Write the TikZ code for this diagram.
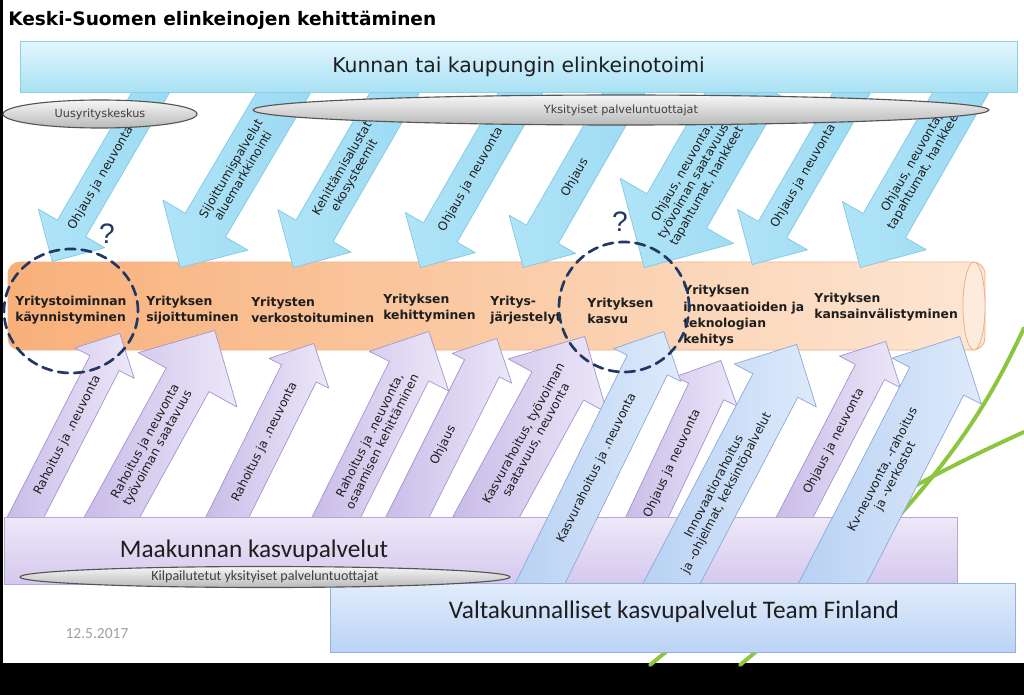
\documentclass[tikz,border=0pt]{standalone}
\usepackage{fontspec}
\setmainfont{DejaVu Sans}
\newfontfamily\calfont{Carlito}
\newfontfamily\markfont{Liberation Sans}
\usepackage{tikz}
\usetikzlibrary{calc,positioning,shapes.geometric,shapes.arrows}
\newcommand\pxl{0.025cm}
\definecolor{barTop}{HTML}{E3F6FD}
\definecolor{barBot}{HTML}{A7E1F4}
\definecolor{barLine}{HTML}{8CCFE6}
\definecolor{cyanTail}{HTML}{B0E4F7}
\definecolor{cyanHead}{HTML}{9BDAF3}
\definecolor{cyanLine}{HTML}{7FC9E4}
\definecolor{lilacTail}{HTML}{C9BCE8}
\definecolor{lilacHead}{HTML}{ECE7F8}
\definecolor{lilacLine}{HTML}{A395CF}
\definecolor{skyTail}{HTML}{B7D1F3}
\definecolor{skyHead}{HTML}{DEEAFB}
\definecolor{skyLine}{HTML}{8DA9D8}
\definecolor{tubeL}{HTML}{F8B07A}
\definecolor{tubeR}{HTML}{FDE6D3}
\definecolor{tubeCap}{HTML}{FDEBDD}
\definecolor{tubeLine}{HTML}{F2B185}
\definecolor{maakTop}{HTML}{EEE8F8}
\definecolor{maakBot}{HTML}{D5C8EE}
\definecolor{maakLine}{HTML}{B5A6D8}
\definecolor{valTop}{HTML}{E2ECFC}
\definecolor{valBot}{HTML}{BBD3F5}
\definecolor{valLine}{HTML}{93B1DE}
\definecolor{ovalTop}{HTML}{F6F6F6}
\definecolor{ovalBot}{HTML}{B9B9B9}
\definecolor{ovalLine}{HTML}{555555}
\definecolor{ovalText}{HTML}{404040}
\definecolor{navy}{HTML}{1F3864}
\definecolor{leaf}{HTML}{8CC63E}
\definecolor{ink}{HTML}{1E1E1E}
\definecolor{dateGrey}{HTML}{A0A0A0}
\tikzset{
    every picture/.style={line cap=round,line join=round},
    topbar/.style={draw=barLine,top color=barTop,bottom color=barBot,line width=0.6pt,
      minimum width=997*\pxl,minimum height=51*\pxl,inner sep=0pt,
      font=\fontsize{14.5}{16}\selectfont,text=ink},
    greyoval/.style={ellipse,draw=ovalLine,top color=ovalTop,bottom color=ovalBot,
      line width=0.8pt,inner sep=0pt,text=ovalText,font=\fontsize{8}{9}\selectfont},
    blockarrow/.style={single arrow,line width=0.5pt,inner xsep=0pt},
    downarrow/.style={blockarrow,draw=cyanLine,left color=cyanTail,right color=cyanHead},
    lilacarrow/.style={blockarrow,draw=lilacLine,left color=lilacTail,right color=lilacHead},
    skyarrow/.style={blockarrow,draw=skyLine,left color=skyTail,right color=skyHead},
    arrowlabel/.style={font=\fontsize{8.6}{10}\selectfont,align=center,text=ink,inner sep=0pt},
    stagelabel/.style={font=\bfseries\fontsize{8.8}{11.6}\selectfont,align=left,
      anchor=west,inner sep=0pt,text=ink},
    tube/.style={rectangle,rounded corners=0.3cm,draw=tubeLine,left color=tubeL,right color=tubeR,
      line width=0.6pt,minimum width=977*\pxl,minimum height=88*\pxl,inner sep=0pt},
    tubecap/.style={ellipse,fill=tubeCap,draw=tubeLine,line width=0.6pt,inner sep=0pt,
      minimum width=22*\pxl,minimum height=88*\pxl},
    bigbox/.style={rectangle,line width=0.6pt,inner sep=0pt},
    boxlabel/.style={font=\calfont\fontsize{18}{20}\selectfont,text=ink,inner sep=0pt},
    qring/.style={draw=navy,line width=1.9pt,dash pattern=on 7pt off 4.5pt,inner sep=0pt},
    qmark/.style={font=\markfont\fontsize{20}{22}\selectfont,text=navy,inner sep=0pt},
    leafline/.style={draw=leaf,line width=2.8pt}
}
\begin{document}
\begin{tikzpicture}[x=\pxl,y=-\pxl]
  \useasboundingbox (0,0) rectangle (1024,695);
  \fill[black] (0,0) rectangle (1024,695);
  \fill[white] (3,0) rectangle (1024,663);
  \node[anchor=base west,font=\bfseries\fontsize{13.2}{15}\selectfont,inner sep=0pt] (title) at (8,26)
    {Keski-Suomen elinkeinojen kehittäminen};
  \draw[leafline] (1024,328) .. controls (990,400) and (940,500) .. (740,665);
  \draw[leafline] (1024,432) .. controls (940,470) and (800,540) .. (650,665);
  % tube of the stages
  \node[tube] (tube) at (496.5,306) {};
  \node[tubecap] (cap) at (974,306) {};
  % arrows from the municipality
  \foreach \nm/\xa/\ya/\xb/\yb/\sw/\hw/\fr/\txt in {
      t1/158/80/52/262/32/76/.46/{Ohjaus ja neuvonta},
      t2/291/80/180/268/46/98/.51/{Sijoittumispalvelut\\aluemarkkinointi},
      t3/402/80/293/268/42/84/.51/{Kehittämisalustat\\ekosysteemit},
      t4/528/80/420/268/38/80/.47/{Ohjaus ja neuvonta},
      t5/631/80/523/268/36/76/.48/{Ohjaus},
      t6/752/80/644/268/68/130/.47/{Ohjaus, neuvonta,\\työvoiman saatavuus,\\tapahtumat, hankkeet},
      t7/859/80/752/265/32/80/.48/{Ohjaus ja neuvonta},
      t8/968/80/860/268/48/96/.54/{Ohjaus, neuvonta,\\tapahtumat, hankkeet}}{
    \path let \p1=(\xb,\yb), \p2=(\xa,\ya), \p3=($(\p1)-(\p2)$),
          \n1={atan2(\y3,\x3)}, \n2={veclen(\x3,\y3)} in
      node[downarrow,rotate=\n1,anchor=tip,minimum height=\n2,minimum width=\hw*\pxl,
           inner ysep=\sw*\pxl/2,single arrow head extend=(\hw-\sw)*\pxl/2] (\nm) at (\p1) {}
      node[arrowlabel,rotate=\n1+180] (\nm-l) at ($(\p1)!\fr!(\p2)$) {\txt};
  }
  \node[topbar] (bar) at (518.5,67) {Kunnan tai kaupungin elinkeinotoimi};
  \node[greyoval,minimum width=194*\pxl,minimum height=28*\pxl] (uusi) at (100,114) {Uusyrityskeskus};
  \node[greyoval,minimum width=736*\pxl,minimum height=30*\pxl] (yks) at (621,110) {Yksityiset palveluntuottajat};
  % arrows from the region
  \foreach \nm/\xa/\ya/\xb/\yb/\sw/\hw/\fr/\txt in {
      p1/19/530/120/333/32/66/.52/{Rahoitus ja .neuvonta},
      p2/105/530/215/330/48/112/.575/{Rahoitus ja neuvonta\\työvoiman saatavuus},
      p3/221/530/314/343/38/66/.53/{Rahoitus ja .neuvonta},
      p4/330/530/429/331/43/88/.54/{Rahoitus ja .neuvonta,\\osaamisen kehittäminen},
      p5/401/530/497/338/38/66/.56/{Ohjaus},
      p6/479/530/585/336/58/112/.52/{Kasvurahoitus, työvoiman\\saatavuus, neuvonta},
      p7/641/530/721/360/38/68/.61/{Ohjaus ja neuvonta},
      p8/788/530/886/341/32/68/.53/{Ohjaus ja neuvonta}}{
    \path let \p1=(\xb,\yb), \p2=(\xa,\ya), \p3=($(\p1)-(\p2)$),
          \n1={atan2(\y3,\x3)}, \n2={veclen(\x3,\y3)} in
      node[lilacarrow,rotate=\n1,anchor=tip,minimum height=\n2,minimum width=\hw*\pxl,
           inner ysep=\sw*\pxl/2,single arrow head extend=(\hw-\sw)*\pxl/2] (\nm) at (\p1) {}
      node[arrowlabel,rotate=\n1] (\nm-l) at ($(\p1)!\fr!(\p2)$) {\txt};
  }
  \node[bigbox,draw=maakLine,top color=maakTop,bottom color=maakBot,
        minimum width=953*\pxl,minimum height=67*\pxl] (maak) at (480.5,550.5) {};
  \node[boxlabel] (maak-l) at (254,551) {Maakunnan kasvupalvelut};
  % arrows from the state
  \foreach \nm/\xa/\ya/\xb/\yb/\sw/\hw/\fr/\txt in {
      b1/532/600/664/331/44/74/.51/{Kasvurahoitus ja .neuvonta},
      b2/663/600/797/344/50/92/.57/{Innovaatiorahoitus\\ja -ohjelmat, keksintöpalvelut},
      b3/824/600/960/336/60/100/.52/{Kv-neuvonta, -rahoitus\\ja -verkostot}}{
    \path let \p1=(\xb,\yb), \p2=(\xa,\ya), \p3=($(\p1)-(\p2)$),
          \n1={atan2(\y3,\x3)}, \n2={veclen(\x3,\y3)} in
      node[skyarrow,rotate=\n1,anchor=tip,minimum height=\n2,minimum width=\hw*\pxl,
           inner ysep=\sw*\pxl/2,single arrow head extend=(\hw-\sw)*\pxl/2] (\nm) at (\p1) {}
      node[arrowlabel,rotate=\n1] (\nm-l) at ($(\p1)!\fr!(\p2)$) {\txt};
  }
  \node[bigbox,draw=valLine,top color=valTop,bottom color=valBot,
        minimum width=685*\pxl,minimum height=69*\pxl] (val) at (672.5,617.5) {};
  \node[boxlabel] (val-l) at (674,612) {Valtakunnalliset kasvupalvelut Team Finland};
  \node[greyoval,minimum width=490*\pxl,minimum height=21*\pxl,
        font=\calfont\fontsize{10}{11}\selectfont] (kilp) at (265,577) {Kilpailutetut yksityiset palveluntuottajat};
  % stages
  \foreach \nm/\sx/\sy/\txt in {
      s1/15/310/{Yritystoiminnan\\käynnistyminen},
      s2/146/310/{Yrityksen\\sijoittuminen},
      s3/251/310/{Yritysten\\verkostoituminen},
      s4/383/308/{Yrityksen\\kehittyminen},
      s5/490/310/{Yritys-\\järjestelyt},
      s6/587/311/{Yrityksen\\kasvu},
      s7/683/316/{Yrityksen\\innovaatioiden ja\\teknologian\\kehitys},
      s8/814/307/{Yrityksen\\kansainvälistyminen}}{
    \node[stagelabel] (\nm) at (\sx,\sy) {\txt};
  }
  \node[qring,ellipse,minimum width=134*\pxl,minimum height=124*\pxl] (qa) at (71,311) {};
  \node[qring,circle,minimum size=130*\pxl] (qb) at (624,307) {};
  \node[qmark] (qma) at (107,234) {?};
  \node[qmark] (qmb) at (620,222) {?};
  \node[font=\calfont\fontsize{11}{12}\selectfont,text=dateGrey,inner sep=0pt] (date) at (97,634) {12.5.2017};
\end{tikzpicture}
\end{document}
